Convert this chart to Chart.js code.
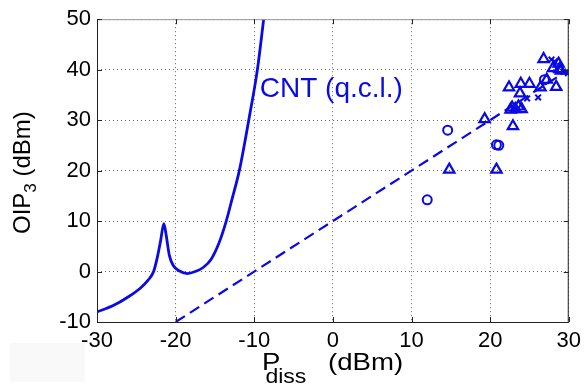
<!DOCTYPE html>
<html>
<head>
<meta charset="utf-8">
<script src="https://cdn.jsdelivr.net/npm/chart.js@4.4.0/dist/chart.umd.min.js"></script>
<style>
  html, body { margin: 0; padding: 0; background: #fff; }
  #wrap { width: 587px; height: 388px; }
</style>
</head>
<body>
<div id="wrap"><canvas id="c" width="587" height="388"></canvas></div>
<script>
// axes
const xTicks = [-30, -20, -10, 0, 10, 20, 30];
const yTicks = [-10, 0, 10, 20, 30, 40, 50];

// CNT (q.c.l.) model curve
const curveX = [-30, -28, -26, -24.5, -23.5, -22.8, -22.3, -21.9, -21.5, -21.2, -20.8, -20.3, -19.5, -18.5, -17.5, -16.5, -15.5, -14.5, -13.6, -12.8, -11.9, -10.7, -9.6, -8.8];
const curveY = [-8, -6.8, -5, -3.3, -1.7, 0.0, 3.0, 6.2, 9.5, 7.2, 3.2, 1.2, 0.1, -0.4, 0.0, 0.8, 2.4, 5.6, 9.8, 14.5, 20.0, 30.0, 40.0, 50];

// dashed trend line
const fitX = [-20, 30];
const fitY = [-10, 40];

// measured devices
const circX = [12.0, 14.6, 20.8, 21.1, 26.9];
const circY = [14.2, 28.0, 25.1, 25.0, 38.0];

const triX = [14.8, 20.8, 19.3, 22.9, 22.6, 22.8, 23.2, 23.6, 24.0, 22.4, 23.9, 25.0, 23.8, 26.4, 28.4, 27.2, 26.8, 28.0, 28.8, 28.7, 29.0];
const triY = [20.2, 20.2, 30.2, 28.8, 32.1, 32.5, 32.2, 32.7, 32.2, 36.5, 37.2, 37.2, 35.3, 36.5, 36.6, 38.0, 42.1, 40.3, 40.1, 41.2, 39.8];

const crossX = [27.8, 24.7, 26.1, 29.9, 29.3, 28.2];
const crossY = [42.0, 34.3, 34.5, 39.3, 39.6, 41.6];

const label = { text: 'CNT (q.c.l.)', x: -9.3, y: 36.2 };

const pts = (xs, ys) => xs.map((x, i) => ({ x: x, y: ys[i] }));
const BLUE = '#0a0ae6';
const FONT = "'Liberation Sans', Arial, sans-serif";

const decor = {
  id: 'decor',
  beforeDraw(chart) {
    const ctx = chart.ctx;
    ctx.save();
    ctx.fillStyle = '#fff';
    ctx.fillRect(0, 0, chart.width, chart.height);
    ctx.fillStyle = '#f9f9f9';
    ctx.fillRect(10, 343, 75, 39);
    ctx.restore();
  },
  afterDraw(chart) {
    const ctx = chart.ctx;
    const a = chart.chartArea;
    const xs = chart.scales.x, ys = chart.scales.y;
    ctx.save();
    // frame
    ctx.lineWidth = 1;
    ctx.strokeStyle = '#999';
    ctx.beginPath();
    ctx.moveTo(a.left, a.top + 0.5); ctx.lineTo(a.right, a.top + 0.5);
    ctx.stroke();
    ctx.strokeStyle = '#222';
    ctx.beginPath();
    ctx.moveTo(a.left + 0.5, a.top); ctx.lineTo(a.left + 0.5, a.bottom + 0.5);
    ctx.lineTo(a.right - 0.5, a.bottom + 0.5); ctx.lineTo(a.right - 0.5, a.top);
    ctx.stroke();
    // inward tick marks
    ctx.beginPath();
    xTicks.forEach(v => {
      const px = Math.round(xs.getPixelForValue(v)) + 0.5;
      ctx.moveTo(px, a.bottom); ctx.lineTo(px, a.bottom - 5);
      ctx.moveTo(px, a.top); ctx.lineTo(px, a.top + 5);
    });
    yTicks.forEach(v => {
      const py = Math.round(ys.getPixelForValue(v)) + 0.5;
      ctx.moveTo(a.left, py); ctx.lineTo(a.left + 5, py);
      ctx.moveTo(a.right, py); ctx.lineTo(a.right - 5, py);
    });
    ctx.stroke();

    // y title: OIP_3 (dBm)
    ctx.fillStyle = '#000';
    ctx.textBaseline = 'alphabetic';
    ctx.translate(30, (a.top + a.bottom) / 2 + 2);
    ctx.rotate(-Math.PI / 2);
    ctx.font = '24px ' + FONT;
    const w1 = ctx.measureText('OIP').width;
    const w3 = ctx.measureText(' (dBm)').width;
    ctx.font = '17px ' + FONT;
    const w2 = ctx.measureText('3').width;
    let x0 = -(w1 + w2 + w3) / 2;
    ctx.font = '24px ' + FONT;
    ctx.fillText('OIP', x0, 0);
    ctx.font = '17px ' + FONT;
    ctx.fillText('3', x0 + w1, 6);
    ctx.font = '24px ' + FONT;
    ctx.fillText(' (dBm)', x0 + w1 + w2, 0);
    ctx.setTransform(1, 0, 0, 1, 0, 0);

    // x title: P_diss (dBm)
    ctx.save();
    ctx.translate(262, 0);
    ctx.scale(1.15, 1);
    ctx.font = '24px ' + FONT;
    ctx.fillText('P', 0, 370);
    ctx.fillText('(dBm)', (328 - 262) / 1.15, 370);
    ctx.font = '20px ' + FONT;
    ctx.fillText('diss', 3, 383);
    ctx.restore();

    // curve label
    ctx.fillStyle = BLUE;
    ctx.font = '28px ' + FONT;
    ctx.textBaseline = 'middle';
    ctx.fillText(label.text, xs.getPixelForValue(label.x), ys.getPixelForValue(label.y));
    ctx.restore();
  }
};

new Chart(document.getElementById('c'), {
  type: 'scatter',
  data: {
    datasets: [
      { data: pts(curveX, curveY), showLine: true, borderColor: BLUE, borderWidth: 2.8,
        pointRadius: 0, cubicInterpolationMode: 'monotone' },
      { data: pts(fitX, fitY), showLine: true, borderColor: BLUE, borderWidth: 2.2,
        borderDash: [11, 6], pointRadius: 0 },
      { data: pts(circX, circY), pointStyle: 'circle', pointRadius: 4.5, borderColor: BLUE,
        backgroundColor: 'rgba(0,0,0,0)', borderWidth: 2 },
      { data: pts(triX, triY), pointStyle: 'triangle', pointRadius: 6, borderColor: BLUE,
        backgroundColor: 'rgba(0,0,0,0)', borderWidth: 2.2 },
      { data: pts(crossX, crossY), pointStyle: 'crossRot', pointRadius: 4, borderColor: BLUE,
        borderWidth: 2 }
    ]
  },
  options: {
    responsive: false,
    animation: false,
    layout: { padding: { top: 11, right: 15, left: 0, bottom: 0 } },
    plugins: { legend: { display: false }, tooltip: { enabled: false } },
    scales: {
      x: {
        type: 'linear', min: -30, max: 30,
        afterBuildTicks: s => { s.ticks = xTicks.map(v => ({ value: v })); },
        afterFit: s => { s.height = 66; },
        grid: { color: '#666', lineWidth: 1, drawTicks: false },
        border: { display: false, dash: [1, 3] },
        ticks: { color: '#000', padding: 6, font: { family: FONT, size: 22 } }
      },
      y: {
        type: 'linear', min: -10, max: 50,
        afterBuildTicks: s => { s.ticks = yTicks.map(v => ({ value: v })); },
        afterFit: s => { s.width = 97; },
        grid: { color: '#666', lineWidth: 1, drawTicks: false },
        border: { display: false, dash: [1, 3] },
        ticks: { color: '#000', padding: 6, font: { family: FONT, size: 22 } }
      }
    }
  },
  plugins: [decor]
});
</script>
</body>
</html>
